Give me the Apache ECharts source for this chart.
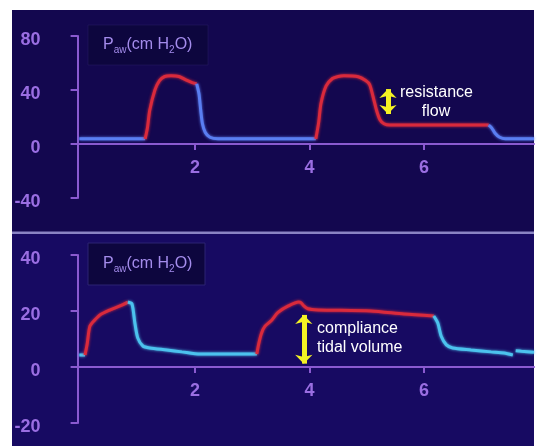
<!DOCTYPE html>
<html><head><meta charset="utf-8">
<script src="https://cdn.jsdelivr.net/npm/echarts@6/dist/echarts.min.js"></script>
<style>html,body{margin:0;padding:0;background:#fff;}#c{width:542px;height:446px;}</style>
</head><body><div id="c"></div>
<script>
// ---- data: [time (s), pressure (cm H2O)] ----
const topExp1  = [[-0.02,3.8],[1.13,3.8]];
const topInsp1 = [[1.13,3.8],[1.17,12],[1.21,25],[1.30,40],[1.38,47],[1.47,50],[1.58,50.5],[1.72,50],[1.84,47.5],[1.95,45.5],[2.03,44.5]];
const topExp2  = [[2.03,44.5],[2.07,37],[2.10,25],[2.13,15],[2.18,8.5],[2.26,5],[2.4,3.8],[4.11,3.8]];
const topInsp2 = [[4.11,3.8],[4.16,16],[4.20,30],[4.29,43],[4.40,48.5],[4.50,50],[4.60,50.5],[4.85,49.8],[4.98,47],[5.05,44],[5.11,35],[5.17,25],[5.23,18],[5.30,15],[5.40,14],[7.13,14]];
const topExp3  = [[7.13,14],[7.18,12],[7.24,8],[7.32,5],[7.42,3.8],[7.92,3.8]];

const botExp0  = [[-0.02,4.3],[0.08,4.3]];
const botInsp1 = [[0.08,4.3],[0.12,8.6],[0.165,14.6],[0.25,16.8],[0.34,18.6],[0.52,20.4],[0.69,21.8],[0.83,23.2]];
const botExp1  = [[0.83,23.2],[0.90,22.5],[0.95,15.7],[1.00,10.4],[1.09,7.5],[1.21,6.8],[1.51,6.1],[1.77,5.4],[2.09,4.6],[3.08,4.6]];
const botInsp2 = [[3.08,4.6],[3.11,8],[3.16,12],[3.22,14.5],[3.33,16.5],[3.45,19.5],[3.63,21.8],[3.81,23.2],[3.85,23],[3.90,21.8],[3.97,20.8],[4.15,20.4],[5.07,20],[5.65,18.9],[6.17,18.2]];
const botExp2  = [[6.17,18.2],[6.24,15.7],[6.30,11],[6.39,7.9],[6.50,6.8],[6.82,6.1],[7.17,5.4],[7.40,5.0],[7.55,4.3]];
const botExp3  = [[7.60,5.8],[7.70,5.6],[7.92,5.3]];

const xTicks = [2, 4, 6];
const topArrow = [[5.37, 40.7], [5.37, 22.2]];
const botArrow = [[3.90, 18.6], [3.90, 1.2]];

// ---- styling ----
const RED = '#d92a3c', BLUE1 = '#5a7ef2', BLUE2 = '#4cc2ee';
const AXIS = '#8a5ad0', LAB = '#9a6ee2';
const NUMFONT = "'Liberation Sans Narrow','Liberation Sans',Arial,sans-serif";
const NUMWEIGHT = 'bold';

function line(data, color, gi) {
  return { type: 'line', data, xAxisIndex: gi, yAxisIndex: gi, symbol: 'none', smooth: 0.25,
    lineStyle: { color, width: 3, shadowBlur: 3, shadowColor: color }, silent: true, animation: false, z: 5 };
}
function arrow(pts, gi) {
  return { type: 'line', data: [], xAxisIndex: gi, yAxisIndex: gi, animation: false,
    markLine: { silent: true, animation: false, symbol: ['arrow','arrow'], symbolSize: [13, 9],
      label: { show: false }, lineStyle: { color: '#f4f224', width: 5, type: 'solid' },
      data: [[{ coord: pts[0] }, { coord: pts[1] }]] } };
}
function xAx(gi, off) {
  return { type: 'value', gridIndex: gi, min: -0.05, max: 7.92, offset: off,
    axisLine: { onZero: false, lineStyle: { color: AXIS, width: 2 } },
    axisTick: { show: true, customValues: xTicks, length: 6, lineStyle: { color: AXIS, width: 2 } },
    axisLabel: { customValues: xTicks, color: LAB, fontFamily: NUMFONT, fontWeight: NUMWEIGHT, fontSize: 18, margin: 15 },
    splitLine: { show: false } };
}
function yAx(gi, min, max, step, lh) {
  return { type: 'value', gridIndex: gi, min, max, interval: step,
    axisLine: { show: true, onZero: false, lineStyle: { color: AXIS, width: 2 } },
    axisTick: { show: true, length: 7, lineStyle: { color: AXIS, width: 2 } },
    axisLabel: { color: LAB, fontFamily: NUMFONT, fontWeight: NUMWEIGHT, fontSize: 18, margin: 37,
      verticalAlign: 'top', lineHeight: lh },
    splitLine: { show: false } };
}
const legendRich = {
  m: { fontFamily: 'Liberation Sans, Arial, sans-serif', fontSize: 16, fill: '#a48cec' },
  s: { fontFamily: 'Liberation Sans, Arial, sans-serif', fontSize: 10, fill: '#a48cec', padding: [10,0,0,0] }
};
function legendBox(x, y, w, h, stroke) {
  return [
    { type: 'rect', shape: { x, y, width: w, height: h }, style: { fill: '#0d063e', stroke, lineWidth: 1 }, z: 1 },
    { type: 'text', x: x + 15, y: y + h / 2, z: 2,
      style: { text: '{m|P}{s|aw}{m|(cm H}{s|2}{m|O)}', rich: legendRich, verticalAlign: 'middle', fill: '#a48cec',
        fontFamily: 'Liberation Sans, Arial, sans-serif', fontSize: 16 } }
  ];
}
function note(text, x, y, align) {
  return { type: 'text', x, y, z: 10, style: { text, fill: '#ffffff', fontFamily: 'Liberation Sans, Arial, sans-serif',
    fontSize: 16, align: align || 'left', verticalAlign: 'middle' } };
}

const chart = echarts.init(document.getElementById('c'), null, { renderer: 'canvas' });
chart.setOption({
  backgroundColor: '#ffffff',
  animation: false,
  grid: [
    { left: 77.6, top: 36, width: 456.4, height: 162 },
    { left: 77.6, top: 255, width: 456.4, height: 168 }
  ],
  xAxis: [xAx(0, -54), xAx(1, -56)],
  yAxis: [yAx(0, -40, 80, 40, 8), yAx(1, -20, 40, 20, 8)],
  graphic: [
    { type: 'rect', shape: { x: 12, y: 10, width: 522, height: 223 }, style: { fill: '#13074f' }, z: -10, silent: true },
    { type: 'rect', shape: { x: 12, y: 233, width: 522, height: 213 }, style: { fill: '#170a62' }, z: -10, silent: true },
    { type: 'rect', shape: { x: 12, y: 231.5, width: 522, height: 2.5 }, style: { fill: '#8a84c4' }, z: -9, silent: true },
    ...legendBox(88, 25, 120, 40, 'rgba(40,30,100,0.5)'),
    ...legendBox(88, 243, 117, 42, '#2c2272'),
    note('resistance', 400, 93),
    note('flow', 436, 112, 'center'),
    note('compliance', 317, 329),
    note('tidal volume', 317, 348)
  ],
  series: [
    line(topExp1, BLUE1, 0), line(topInsp1, RED, 0), line(topExp2, BLUE1, 0), line(topInsp2, RED, 0), line(topExp3, BLUE1, 0),
    line(botExp0, BLUE2, 1), line(botInsp1, RED, 1), line(botExp1, BLUE2, 1), line(botInsp2, RED, 1), line(botExp2, BLUE2, 1), line(botExp3, BLUE2, 1),
    arrow(topArrow, 0), arrow(botArrow, 1)
  ]
});
</script></body></html>
